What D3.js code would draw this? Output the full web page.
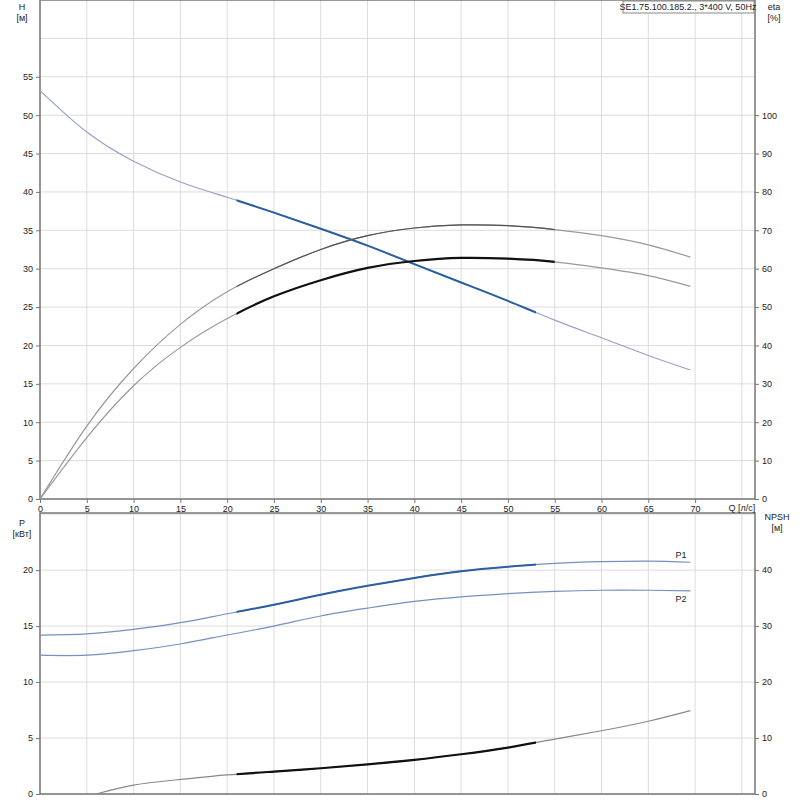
<!DOCTYPE html><html><head><meta charset="utf-8"><script src="https://d3js.org/d3.v7.min.js"></script>
<style>body{margin:0;background:#fff}text{font-family:"Liberation Sans",Arial,sans-serif;font-size:9px;fill:#222}</style></head><body><svg id="c" width="800" height="800"></svg><script>
const qTicks=[0,5,10,15,20,25,30,35,40,45,50,55,60,65,70];
const hTicks=[0,5,10,15,20,25,30,35,40,45,50,55];
const etaTicks=[0,10,20,30,40,50,60,70,80,90,100];
const pTicks=[0,5,10,15,20];
const npshTicks=[0,10,20,30,40];
const Q=[0,5,10,15,20,25,30,35,40,45,50,55,60,65,69.5];
const H=[53.2,47.8,44.0,41.3,39.3,37.3,35.2,33.0,30.6,28.2,25.8,23.3,21.0,18.7,16.8];
const etaA=[0,19,34,45.5,54,60,65,68.6,70.6,71.4,71.2,70.2,68.6,66.2,63.0];
const etaB=[0,16,29.5,39.5,47,52.8,57,60.2,62,62.8,62.6,61.8,60.2,58.2,55.4];
const P1=[14.2,14.3,14.7,15.3,16.1,16.9,17.8,18.6,19.3,19.9,20.3,20.6,20.75,20.8,20.7];
const P2=[12.4,12.4,12.8,13.4,14.2,15.0,15.9,16.6,17.2,17.6,17.9,18.1,18.2,18.2,18.15];
const Qn=[6,10,15,20,25,30,35,40,45,50,55,60,65,69.5];
const NPSH=[0,1.6,2.6,3.4,4.0,4.6,5.3,6.1,7.1,8.3,9.8,11.3,13.0,14.9];
const svg=d3.select("#c");
const x=d3.scaleLinear().domain([0,76.4]).range([40,755]);
const yH=d3.scaleLinear().domain([0,65]).range([499,0]);
const yE=d3.scaleLinear().domain([0,130]).range([499,0]);
const yP=d3.scaleLinear().domain([0,25.1]).range([794,513]);
const yN=d3.scaleLinear().domain([0,50.2]).range([794,513]);
const grid="#dcdcdc";
function panel(y0,y1,ys,ticks){
 const g=svg.append("g");
 [...qTicks,75].forEach(q=>g.append("line").attr("x1",x(q)).attr("x2",x(q)).attr("y1",y0).attr("y2",y1).attr("stroke",grid));
 ticks.forEach(t=>g.append("line").attr("x1",40).attr("x2",755).attr("y1",ys(t)).attr("y2",ys(t)).attr("stroke",grid));
 g.append("rect").attr("x",40).attr("y",y0).attr("width",715).attr("height",y1-y0).attr("fill","none").attr("stroke","#777").attr("stroke-width",1.5);
}
panel(0,499,yH,[...hTicks,60]);
panel(513,794,yP,[...pTicks,25]);
svg.append("g").attr("transform","translate(40,0)").call(d3.axisLeft(yH).tickValues(hTicks).tickSize(4)).call(a=>a.select(".domain").remove());
svg.append("g").attr("transform","translate(755,0)").call(d3.axisRight(yE).tickValues(etaTicks).tickSize(4)).call(a=>a.select(".domain").remove());
svg.append("g").attr("transform","translate(0,499)").call(d3.axisBottom(x).tickValues(qTicks).tickSize(4)).call(a=>a.select(".domain").remove());
svg.append("g").attr("transform","translate(40,0)").call(d3.axisLeft(yP).tickValues(pTicks).tickSize(4)).call(a=>a.select(".domain").remove());
svg.append("g").attr("transform","translate(755,0)").call(d3.axisRight(yN).tickValues(npshTicks).tickSize(4)).call(a=>a.select(".domain").remove());
svg.selectAll(".tick line").attr("stroke","#777");
svg.selectAll(".tick text").style("font-size","9px").attr("fill","#222");
const t=(s,xx,yy,a)=>svg.append("text").attr("x",xx).attr("y",yy).attr("text-anchor",a||"middle").text(s);
t("H",22,10);t("[м]",22,21);t("eta",774,10);t("[%]",774,21);
t("P",22,526);t("[кВт]",22,537);t("NPSH",777,520);t("[м]",777,531);
t("Q [л/с]",742,511);
svg.append("rect").attr("x",623).attr("y",1).attr("width",131).attr("height",12).attr("fill","#fff").attr("stroke","#888");
t("SE1.75.100.185.2., 3*400 V, 50Hz",688,10);
const defs=svg.append("defs");
[[21,53],[21,55]].forEach(([a,b])=>defs.append("clipPath").attr("id",`c${a}_${b}`).append("rect").attr("x",x(a)).attr("y",0).attr("width",x(b)-x(a)).attr("height",800));
function curve(xs,ys,yS,col,w,lo,hi,dcol,dw){
 const pts=xs.map((q,i)=>[q,ys[i]]);
 const ln=d3.line().curve(d3.curveNatural).x(d=>x(d[0])).y(d=>yS(d[1]));
 svg.append("path").attr("d",ln(pts)).attr("fill","none").attr("stroke",col).attr("stroke-width",w);
 if(lo!=null){svg.append("path").attr("d",ln(pts)).attr("clip-path",`url(#c${lo}_${hi})`).attr("fill","none").attr("stroke",dcol).attr("stroke-width",dw);}
}
curve(Q,H,yH,"#9aa2c4",1.2,21,53,"#2a5fa0",2);
curve(Q,etaA,yE,"#999",1.2,21,55,"#555",1.2);
curve(Q,etaB,yE,"#999",1.2,21,55,"#111",2.2);
curve(Q,P1,yP,"#7590bf",1.2,21,53,"#2a5fa0",2);
curve(Q,P2,yP,"#7590bf",1.2);
curve(Qn,NPSH,yN,"#888",1.2,21,53,"#111",2.2);
t("P1",x(69.5)-4,yP(20.7)-4,"end").attr("fill","#2a5fa0");
t("P2",x(69.5)-4,yP(18.15)+11,"end").attr("fill","#2a5fa0");
</script></body></html>
